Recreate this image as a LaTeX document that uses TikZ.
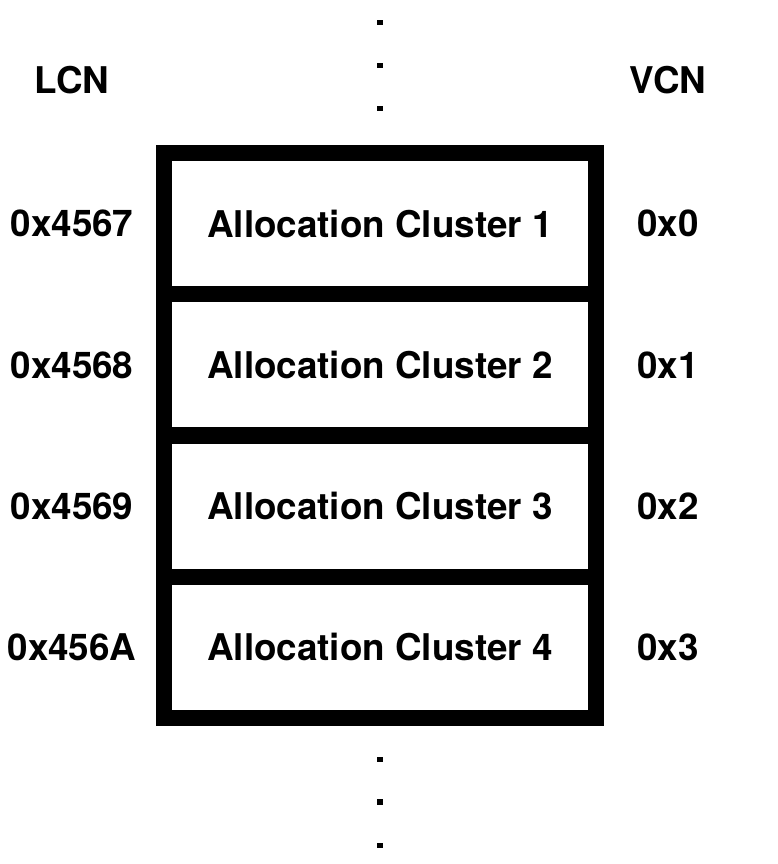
\documentclass[tikz,border=0pt]{standalone}
\usepackage{fontspec}
\setmainfont{TeX Gyre Heros}
\begin{document}
\begin{tikzpicture}[x=1pt,y=-1pt,
  txt/.style={font=\fontsize{36.8}{42}\selectfont\bfseries, inner sep=0pt},
  cell/.style={txt, draw=black, line width=16pt, minimum width=432pt, minimum height=141.25pt},
  dot/.style={fill=black, draw=none, minimum size=5.5pt, inner sep=0pt, rectangle}]
\useasboundingbox (0,0) rectangle (778,864);
% dots
\node[dot] (d1) at (380,22.7) {};
\node[dot] (d2) at (380,65.5) {};
\node[dot] (d3) at (380,108.5) {};
\node[dot] (d4) at (380,759.5) {};
\node[dot] (d5) at (380,802) {};
\node[dot] (d6) at (380,845.5) {};
% headers
\node[txt] (lcn) at (72,80) {LCN};
\node[txt] (vcn) at (668,80) {VCN};
% cells
\node[cell] (c1) at (380,223.6) {Allocation Cluster 1};
\node[cell] (c2) at (380,364.9) {Allocation Cluster 2};
\node[cell] (c3) at (380,506.1) {Allocation Cluster 3};
\node[cell] (c4) at (380,647.4) {Allocation Cluster 4};
% LCN labels
\node[txt] (l1) at (72,223.6) {0x4567};
\node[txt] (l2) at (72,364.9) {0x4568};
\node[txt] (l3) at (72,506.1) {0x4569};
\node[txt] (l4) at (72,647.4) {0x456A};
% VCN labels
\node[txt] (v1) at (668,223.6) {0x0};
\node[txt] (v2) at (668,364.9) {0x1};
\node[txt] (v3) at (668,506.1) {0x2};
\node[txt] (v4) at (668,647.4) {0x3};
\end{tikzpicture}
\end{document}
